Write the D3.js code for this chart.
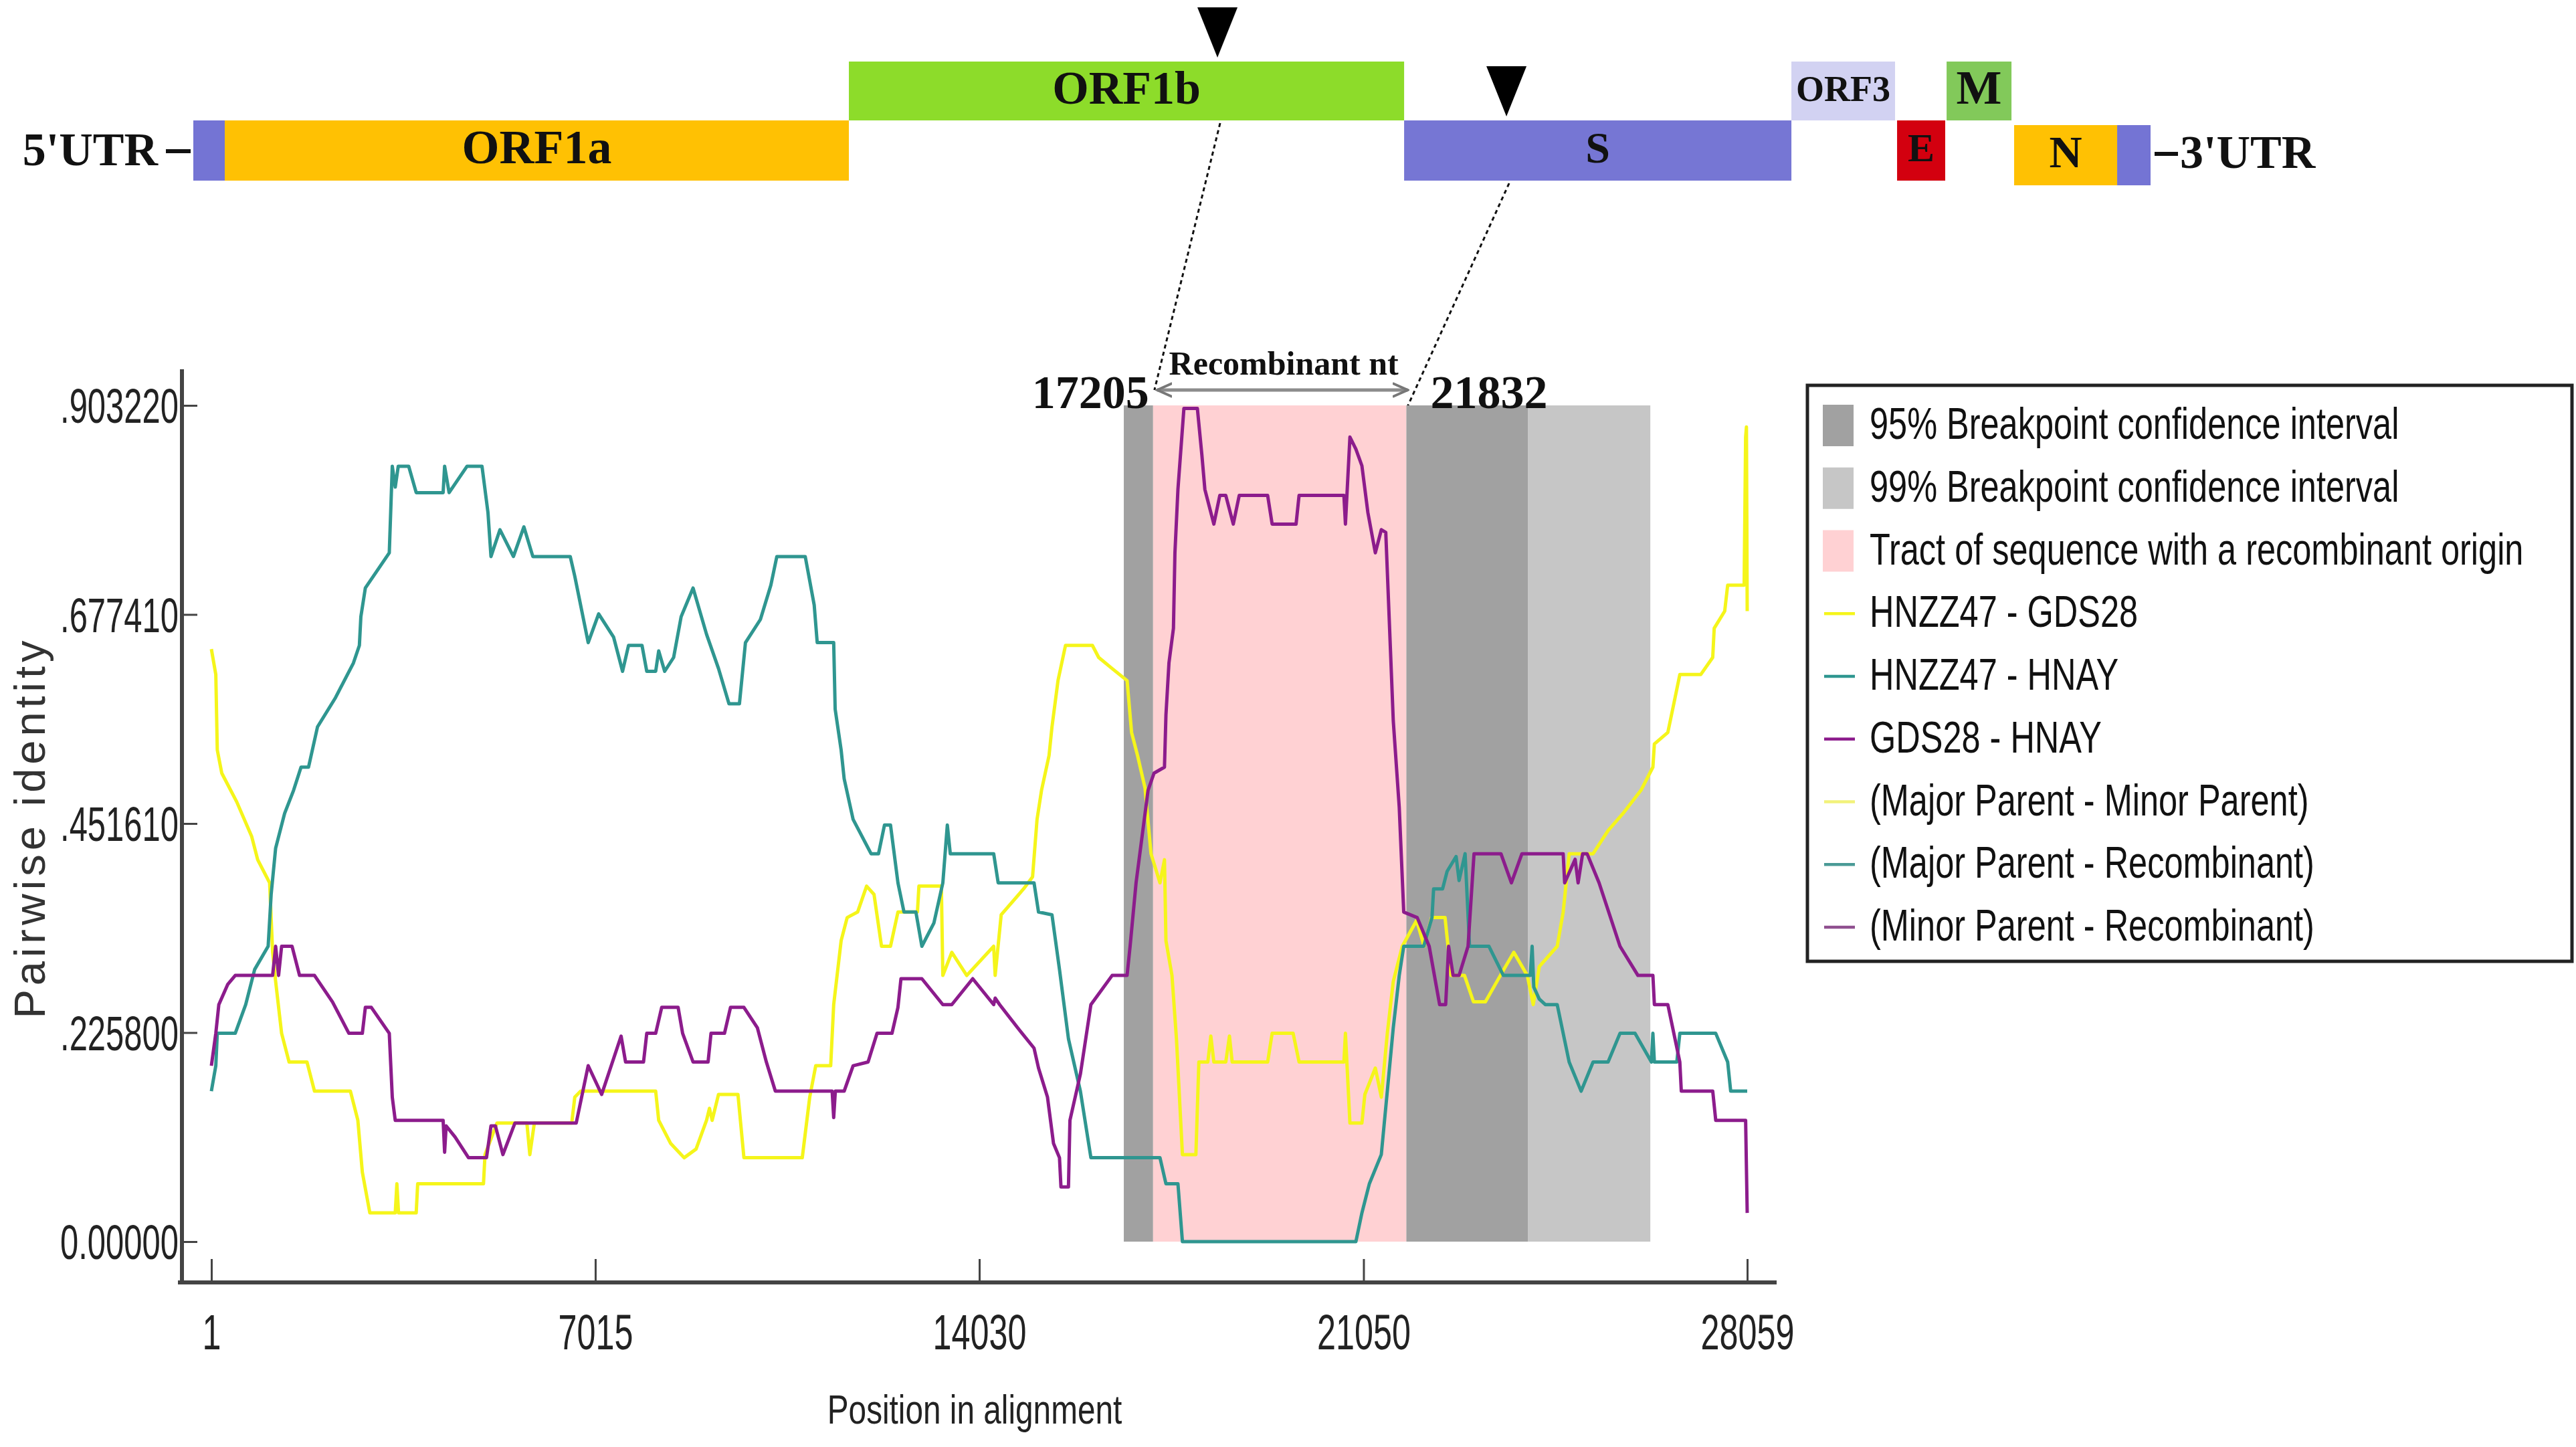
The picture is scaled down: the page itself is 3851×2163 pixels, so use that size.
<!DOCTYPE html>
<html lang="en">
<head>
<meta charset="utf-8">
<title>recombination plot</title>
<script src="https://cdn.jsdelivr.net/npm/d3@7"></script>
<style>
  body { margin:0; background:#fff; }
  svg { display:block; }
</style>
</head>
<body>
<div id="chart"></div>
<script>
var W = 3851, H = 2163

// x ticks (position in alignment) and y ticks (pairwise identity)
var tickPositions = [1, 7015, 14030, 21050, 28059]
var identityTicks = [0, 0.2258, 0.45161, 0.67741, 0.90322]
var identityTickLabels = ["0.00000", ".225800", ".451610", ".677410", ".903220"]

// breakpoints and shaded intervals (alignment positions)
var breakpoints = [17205, 21832]
var regions = [
  {from: 16670, to: 17205, kind: "ci95"},
  {from: 17205, to: 21832, kind: "tract"},
  {from: 21832, to: 24051, kind: "ci95"},
  {from: 24051, to: 26289, kind: "ci99"}
]

// pairwise identity series [position, identity]
var hnzz47_gds28 = [[1,.64],[82,.6125],[109,.531],[191,.506],[464,.475],[738,.4375],[847,.4125],[1065,.3875],[1120,.3125],[1175,.281],[1284,.225],[1421,.194],[1748,.194],[1885,.1625],[2541,.1625],[2677,.131],[2759,.075],[2896,.031],[3360,.031],[3390,.0625],[3420,.031],[3743,.031],[3770,.0625],[4972,.0625],[5000,.094],[5218,.128],[5765,.128],[5819,.094],[5901,.128],[6584,.128],[6640,.156],[6748,.1625],[8118,.1625],[8173,.131],[8392,.106],[8638,.0906],[8856,.1],[9047,.131],[9100,.144],[9150,.131],[9266,.159],[9621,.159],[9730,.0906],[10796,.0906],[10932,.156],[11042,.19],[11315,.19],[11370,.256],[11506,.325],[11616,.35],[11807,.356],[11971,.384],[12107,.375],[12244,.319],[12408,.319],[12544,.356],[12900,.356],[12927,.384],[13337,.384],[13364,.2875],[13528,.3125],[13801,.2875],[14293,.319],[14320,.2875],[14430,.353],[14839,.381],[15003,.394],[15085,.456],[15167,.4875],[15304,.525],[15358,.556],[15468,.606],[15605,.644],[16096,.644],[16211,.631],[16457,.619],[16730,.606],[16812,.55],[16921,.525],[17058,.49],[17167,.419],[17331,.3875],[17413,.4125],[17440,.325],[17550,.2875],[17632,.219],[17741,.094],[17987,.094],[18041,.194],[18205,.194],[18260,.222],[18315,.194],[18533,.194],[18600,.222],[18650,.194],[19298,.194],[19380,.225],[19763,.225],[19872,.194],[20691,.194],[20719,.225],[20801,.128],[21020,.128],[21074,.159],[21265,.1875],[21375,.156],[21484,.225],[21593,.281],[21757,.319],[22020,.347],[22156,.319],[22293,.35],[22539,.35],[22593,.319],[22648,.2875],[22894,.2875],[23058,.259],[23276,.259],[23549,.2875],[23795,.3125],[24041,.2875],[24150,.256],[24260,.297],[24588,.319],[24697,.356],[24752,.3875],[24806,.419],[25243,.419],[25517,.444],[25790,.4625],[26118,.4875],[26336,.5125],[26363,.5375],[26609,.55],[26718,.581],[26828,.6125],[27210,.6125],[27429,.631],[27456,.6625],[27648,.681],[27702,.709],[28003,.709],[28030,.869],[28045,.88],[28059,.681]]

var hnzz47_hnay = [[1,.1625],[82,.19],[109,.225],[437,.225],[628,.256],[792,.294],[1038,.319],[1093,.375],[1175,.425],[1339,.4625],[1503,.4875],[1639,.5125],[1776,.5125],[1940,.556],[2268,.5875],[2596,.625],[2705,.644],[2732,.675],[2814,.706],[3033,.725],[3251,.744],[3306,.8375],[3360,.815],[3415,.8375],[3606,.8375],[3743,.809],[4235,.809],[4262,.8375],[4344,.809],[4672,.8375],[4945,.8375],[5054,.7875],[5109,.74],[5273,.769],[5519,.74],[5710,.772],[5874,.74],[6557,.74],[6639,.719],[6885,.647],[7076,.678],[7349,.653],[7513,.616],[7622,.644],[7868,.644],[7955,.616],[8118,.616],[8173,.638],[8282,.616],[8446,.631],[8583,.675],[8801,.706],[9047,.656],[9266,.619],[9457,.581],[9648,.581],[9758,.647],[10031,.672],[10222,.709],[10331,.74],[10850,.74],[11014,.6875],[11069,.647],[11370,.647],[11397,.575],[11506,.531],[11561,.5],[11725,.456],[12053,.419],[12189,.419],[12298,.45],[12408,.45],[12544,.3875],[12654,.356],[12872,.356],[12981,.319],[13200,.344],[13364,.3875],[13446,.45],[13500,.419],[14293,.419],[14375,.3875],[15030,.3875],[15112,.356],[15358,.353],[15495,.294],[15659,.219],[15877,.1625],[16069,.0906],[17331,.0906],[17440,.0625],[17659,.0625],[17741,0],[20910,0],[21020,.031],[21156,.0625],[21374,.094],[21484,.1625],[21593,.231],[21702,.2875],[21784,.319],[22150,.319],[22300,.35],[22330,.381],[22494,.381],[22577,.4],[22741,.416],[22795,.39],[22905,.419],[22986,.319],[23341,.319],[23604,.2875],[24096,.2875],[24130,.319],[24160,.275],[24260,.262],[24370,.256],[24588,.256],[24806,.194],[25025,.1625],[25243,.194],[25517,.194],[25735,.225],[26009,.225],[26309,.194],[26336,.225],[26363,.194],[26773,.194],[26828,.225],[27484,.225],[27702,.194],[27757,.1625],[28059,.1625]]

var gds28_hnay = [[1,.19],[82,.225],[137,.256],[301,.278],[437,.2875],[1120,.2875],[1175,.319],[1229,.2875],[1284,.319],[1475,.319],[1612,.2875],[1885,.2875],[2213,.259],[2513,.225],[2759,.225],[2814,.253],[2923,.253],[3251,.225],[3306,.156],[3360,.131],[4235,.131],[4262,.0965],[4290,.125],[4453,.113],[4699,.0906],[5027,.0906],[5109,.125],[5190,.125],[5327,.094],[5546,.128],[6666,.128],[6885,.19],[7131,.159],[7486,.222],[7568,.194],[7896,.194],[7955,.225],[8118,.225],[8228,.253],[8528,.253],[8610,.225],[8801,.194],[9075,.194],[9129,.225],[9375,.225],[9485,.253],[9730,.253],[9976,.231],[10140,.194],[10304,.1625],[11342,.1625],[11370,.134],[11400,.1625],[11561,.1625],[11725,.19],[11998,.194],[12162,.225],[12435,.225],[12544,.253],[12599,.284],[12981,.284],[13364,.256],[13528,.256],[13910,.284],[14293,.256],[14320,.263],[14402,.256],[14730,.231],[15030,.209],[15112,.1875],[15276,.156],[15386,.106],[15495,.0906],[15522,.059],[15659,.059],[15686,.131],[15877,.181],[16069,.256],[16457,.2875],[16730,.2875],[16785,.319],[16894,.3875],[17113,.4875],[17222,.506],[17413,.5125],[17440,.569],[17495,.625],[17577,.6625],[17604,.744],[17659,.8125],[17768,.9],[18014,.9],[18096,.85],[18151,.8125],[18315,.775],[18424,.806],[18533,.806],[18670,.775],[18779,.806],[19298,.806],[19380,.775],[19817,.775],[19872,.806],[20691,.806],[20719,.775],[20801,.869],[20910,.856],[21020,.838],[21129,.7875],[21265,.744],[21375,.769],[21456,.766],[21593,.5625],[21702,.469],[21784,.356],[22030,.35],[22249,.319],[22440,.256],[22550,.256],[22604,.319],[22686,.2875],[22795,.2875],[22959,.319],[23068,.419],[23560,.419],[23751,.3875],[23943,.419],[24697,.419],[24724,.3875],[24915,.413],[24970,.3875],[25052,.419],[25134,.419],[25353,.3875],[25735,.319],[26063,.2875],[26336,.2875],[26363,.256],[26609,.256],[26828,.194],[26855,.1625],[27429,.1625],[27484,.131],[28030,.131],[28059,.031]]

var seriesNames = ["HNZZ47 - GDS28", "HNZZ47 - HNAY", "GDS28 - HNAY"]
var seriesData = [hnzz47_gds28, hnzz47_hnay, gds28_hnay]
var seriesColors = ["#f5f51a", "#2f9690", "#8c1c8c"]
var parentNames = ["(Major Parent - Minor Parent)", "(Major Parent - Recombinant)", "(Minor Parent - Recombinant)"]
var parentColors = ["#f2f27a", "#4a9a96", "#8f4f8f"]

var regionNames = ["95% Breakpoint confidence interval", "99% Breakpoint confidence interval", "Tract of sequence with a recombinant origin"]
var regionKinds = ["ci95", "ci99", "tract"]
var regionColors = {ci95: "#a1a1a1", ci99: "#c6c6c6", tract: "#ffd1d3"}

// genome schematic (nt, schematic scale)
var genomeLength = 28059
var genes = [
  {name: "5'box", from: 0, to: 451, row: 1, label: ""},
  {name: "ORF1a", from: 451, to: 9398, row: 1, label: "ORF1a"},
  {name: "ORF1b", from: 9398, to: 17358, row: 0, label: "ORF1b"},
  {name: "S", from: 17358, to: 22910, row: 1, label: "S"},
  {name: "ORF3", from: 22910, to: 24396, row: 0, label: "ORF3"},
  {name: "E", from: 24425, to: 25115, row: 1, label: "E"},
  {name: "M", from: 25135, to: 26065, row: 0, label: "M"},
  {name: "N", from: 26103, to: 27580, row: 1, label: "N"},
  {name: "3'box", from: 27580, to: 28059, row: 1, label: ""}
]
var markerSites = [{pos: 14682, row: 0}, {pos: 18825, row: 1}]

var geneStyle = {
  "5'box": {fill: "#7474d4", size: 0, dy: 0},
  "ORF1a": {fill: "#ffc103", size: 72, dy: 0},
  "ORF1b": {fill: "#8ddc2a", size: 70, dy: 0},
  "S": {fill: "#7676d4", size: 66, dy: 0},
  "ORF3": {fill: "#d2d2f2", size: 54, dy: 0},
  "E": {fill: "#d3000f", size: 60, dy: 0},
  "M": {fill: "#82c95a", size: 72, dy: 0},
  "N": {fill: "#ffc103", size: 68, dy: 7},
  "3'box": {fill: "#7474d4", size: 0, dy: 7}
}

var serif = "'Liberation Serif', 'Times New Roman', serif"
var sans = "'Liberation Sans', Arial, sans-serif"

var svg = d3.select("#chart").append("svg").attr("width", W).attr("height", H)
svg.append("rect").attr("width", W).attr("height", H).attr("fill", "#fff")

function condense(sel, k){
  sel.each(function(){
    var len = this.getComputedTextLength()
    d3.select(this).attr("textLength", len * k).attr("lengthAdjust", "spacingAndGlyphs")
  })
}

// ---------- genome map ----------
var mapX = d3.scaleLinear().domain([0, genomeLength]).range([289, 3215])
var rowTop = [92, 180], rowH = [88, 90]

var geneG = svg.append("g")
geneG.selectAll("rect").data(genes).enter().append("rect")
  .attr("x", function(d){ return mapX(d.from) })
  .attr("width", function(d){ return mapX(d.to) - mapX(d.from) })
  .attr("y", function(d){ return rowTop[d.row] + geneStyle[d.name].dy })
  .attr("height", function(d){ return rowH[d.row] })
  .attr("fill", function(d){ return geneStyle[d.name].fill })

geneG.selectAll("text").data(genes.filter(function(d){ return d.label != "" })).enter().append("text")
  .text(function(d){ return d.label })
  .attr("x", function(d){ return (mapX(d.from) + mapX(d.to)) / 2 })
  .attr("y", function(d){ return rowTop[d.row] + geneStyle[d.name].dy + rowH[d.row] / 2 + geneStyle[d.name].size * 0.27 })
  .attr("text-anchor", "middle")
  .attr("font-family", serif).attr("font-weight", "bold")
  .attr("font-size", function(d){ return geneStyle[d.name].size })
  .attr("fill", "#111")

// UTR labels
svg.append("text").text("5'UTR").attr("x", 236).attr("y", 247)
  .attr("text-anchor", "end").attr("font-family", serif).attr("font-weight", "bold").attr("font-size", 70).attr("fill", "#111")
svg.append("line").attr("x1", 248).attr("x2", mapX(0) - 4).attr("y1", 226).attr("y2", 226)
  .attr("stroke", "#111").attr("stroke-width", 6)
svg.append("text").text("3'UTR").attr("x", 3259).attr("y", 251)
  .attr("font-family", serif).attr("font-weight", "bold").attr("font-size", 70).attr("fill", "#111")
svg.append("line").attr("x1", mapX(genomeLength) + 6).attr("x2", 3256).attr("y1", 230).attr("y2", 230)
  .attr("stroke", "#111").attr("stroke-width", 6)

// ---------- plot scales ----------
var x = d3.scaleLinear().domain([1, 28059]).range([316, 2612])
var y = d3.scaleLinear().domain([0, 0.90322]).range([1856, 606])
var yTop = identityTicks[identityTicks.length - 1]

// triangles and dotted leaders to the breakpoints
var triW = 60, triH = 75
svg.selectAll(".tri").data(markerSites).enter().append("path")
  .attr("class", "tri")
  .attr("d", function(d){
    var cx = mapX(d.pos), tip = rowTop[d.row] - 6
    return "M" + (cx - triW / 2) + "," + (tip - triH) + "L" + (cx + triW / 2) + "," + (tip - triH) + "L" + cx + "," + tip + "Z"
  })
  .attr("fill", "#000")

var leaderEnds = [583, 607]
svg.selectAll(".leader").data(markerSites).enter().append("line")
  .attr("class", "leader")
  .attr("x1", function(d){ return mapX(d.pos) + 4 })
  .attr("y1", function(d){ return rowTop[d.row] + rowH[d.row] + 4 })
  .attr("x2", function(d, i){ return x(breakpoints[i]) + 2 })
  .attr("y2", function(d, i){ return leaderEnds[i] })
  .attr("stroke", "#111").attr("stroke-width", 3).attr("stroke-dasharray", "6,5")

// shaded intervals
svg.selectAll(".region").data(regions).enter().append("rect")
  .attr("class", "region")
  .attr("x", function(d){ return x(d.from) })
  .attr("width", function(d){ return x(d.to) - x(d.from) })
  .attr("y", y(yTop))
  .attr("height", y(0) - y(yTop))
  .attr("fill", function(d){ return regionColors[d.kind] })

// recombinant nt arrow
var defs = svg.append("defs")
defs.append("marker").attr("id", "head").attr("viewBox", "0 0 10 10").attr("refX", 9).attr("refY", 5)
  .attr("markerWidth", 5).attr("markerHeight", 5).attr("orient", "auto-start-reverse")
  .append("path").attr("d", "M0,1L9,5L0,9").attr("fill", "none").attr("stroke", "#777").attr("stroke-width", 1.5)
svg.append("line")
  .attr("x1", x(breakpoints[0]) + 6).attr("x2", x(breakpoints[1]) + 2)
  .attr("y1", 583).attr("y2", 583)
  .attr("stroke", "#8c8c8c").attr("stroke-width", 5)
  .attr("marker-start", "url(#head)").attr("marker-end", "url(#head)")

svg.append("text").text("Recombinant nt")
  .attr("x", (x(breakpoints[0]) + x(breakpoints[1])) / 2 + 6).attr("y", 560)
  .attr("text-anchor", "middle").attr("font-family", serif).attr("font-weight", "bold").attr("font-size", 50).attr("fill", "#111")

svg.selectAll(".bp").data(breakpoints).enter().append("text")
  .attr("class", "bp")
  .text(function(d){ return d })
  .attr("x", function(d, i){ return i == 0 ? x(d) - 6 : x(d) + 36 })
  .attr("y", 610)
  .attr("text-anchor", function(d, i){ return i == 0 ? "end" : "start" })
  .attr("font-family", serif).attr("font-weight", "bold").attr("font-size", 70).attr("fill", "#111")

// identity lines
var line = d3.line()
  .x(function(d){ return x(d[0]) })
  .y(function(d){ return y(d[1]) })

svg.selectAll(".series").data(seriesData).enter().append("path")
  .attr("class", "series")
  .attr("d", line)
  .attr("fill", "none")
  .attr("stroke", function(d, i){ return seriesColors[i] })
  .attr("stroke-width", 5)
  .attr("stroke-linejoin", "round")

// ---------- axes ----------
var axisColor = "#444"
var yAxis = d3.axisLeft(y).tickValues(identityTicks)
  .tickFormat(function(d, i){ return identityTickLabels[i] })
  .tickSizeInner(-23).tickSizeOuter(0).tickPadding(5)
var gy = svg.append("g").attr("transform", "translate(272,0)").call(yAxis)
gy.select(".domain").remove()
gy.selectAll("line").attr("stroke", axisColor).attr("stroke-width", 3)
gy.selectAll("text").attr("font-family", sans).attr("font-size", 72).attr("fill", "#222").attr("dy", "0.36em")
condense(gy.selectAll("text"), 0.68)

var xAxis = d3.axisBottom(x).tickValues(tickPositions).tickFormat(d3.format("d"))
  .tickSizeInner(-35).tickSizeOuter(0)
var gx = svg.append("g").attr("transform", "translate(0,1917)").call(xAxis)
gx.select(".domain").remove()
gx.selectAll("line").attr("stroke", axisColor).attr("stroke-width", 3)
gx.selectAll("text").attr("font-family", sans).attr("font-size", 74).attr("fill", "#222").attr("y", 100).attr("dy", 0)
condense(gx.selectAll("text"), 0.68)

svg.append("line").attr("x1", 272).attr("x2", 272).attr("y1", 552).attr("y2", 1920)
  .attr("stroke", axisColor).attr("stroke-width", 6)
svg.append("line").attr("x1", 266).attr("x2", 2656).attr("y1", 1917).attr("y2", 1917)
  .attr("stroke", axisColor).attr("stroke-width", 6)

svg.append("text").text("Pairwise identity")
  .attr("transform", "translate(67,1240) rotate(-90)")
  .attr("text-anchor", "middle").attr("font-family", sans).attr("font-size", 65).attr("fill", "#333")
  .attr("textLength", 565).attr("lengthAdjust", "spacing")

var xTitle = svg.append("text").text("Position in alignment")
  .attr("x", 1457).attr("y", 2128)
  .attr("text-anchor", "middle").attr("font-family", sans).attr("font-size", 62).attr("fill", "#222")
condense(xTitle, 0.77)

// ---------- legend ----------
var legendItems = []
regionNames.forEach(function(n, i){ legendItems.push({label: n, type: "box", color: regionColors[regionKinds[i]]}) })
seriesNames.forEach(function(n, i){ legendItems.push({label: n, type: "line", color: seriesColors[i]}) })
parentNames.forEach(function(n, i){ legendItems.push({label: n, type: "line", color: parentColors[i]}) })

var lg = svg.append("g")
lg.append("rect").attr("x", 2702).attr("y", 576).attr("width", 1143).attr("height", 861)
  .attr("fill", "#fff").attr("stroke", "#222").attr("stroke-width", 5)

var itemY = d3.scalePoint().domain(d3.range(legendItems.length)).range([636, 1386])
var items = lg.selectAll(".item").data(legendItems).enter().append("g")
  .attr("class", "item")
  .attr("transform", function(d, i){ return "translate(2725," + itemY(i) + ")" })

items.filter(function(d){ return d.type == "box" }).append("rect")
  .attr("x", 0).attr("y", -31).attr("width", 46).attr("height", 62)
  .attr("fill", function(d){ return d.color })
items.filter(function(d){ return d.type == "line" }).append("line")
  .attr("x1", 2).attr("x2", 48).attr("y1", 0).attr("y2", 0)
  .attr("stroke", function(d){ return d.color }).attr("stroke-width", 4.5)
// narrow lettering: squeeze horizontally with a transform so the box stays honest
items.append("text")
  .text(function(d){ return d.label })
  .attr("transform", "translate(70,20) scale(0.765,1)")
  .attr("font-family", sans).attr("font-size", 66).attr("fill", "#111")
</script>
</body>
</html>
